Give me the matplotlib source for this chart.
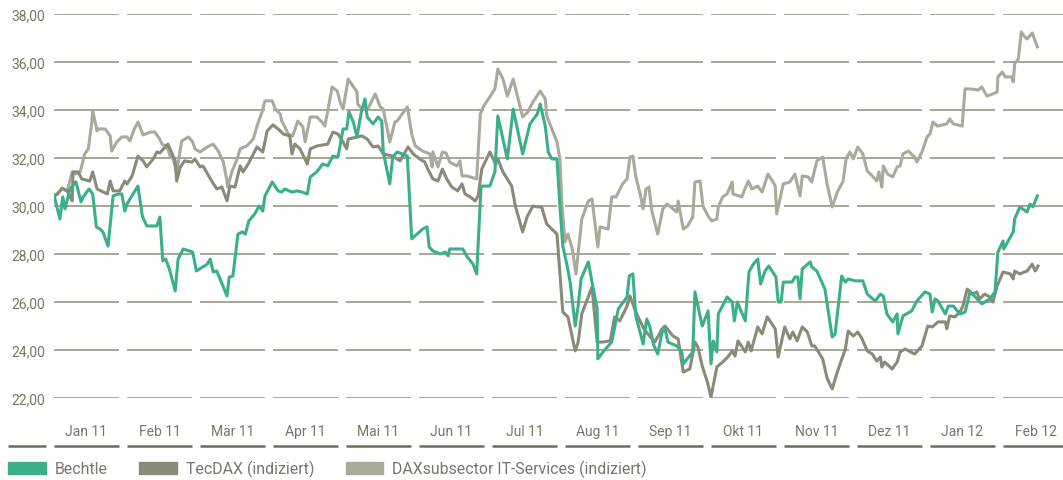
import matplotlib
matplotlib.use("Agg")
from matplotlib import pyplot as plt
from matplotlib.patches import Patch

#--- data (x = position in months, 0 = start of Jan 11)

months = ["Jan 11", "Feb 11", "Mär 11", "Apr 11", "Mai 11", "Jun 11", "Jul 11",
          "Aug 11", "Sep 11", "Okt 11", "Nov 11", "Dez 11", "Jan 12", "Feb 12"]
y_ticks = [22, 24, 26, 28, 30, 32, 34, 36, 38]
y_labels = ["22,00", "24,00", "26,00", "28,00", "30,00", "32,00", "34,00", "36,00", "38,00"]

bechtle_t = [0.00, 0.08, 0.12, 0.15, 0.22, 0.30, 0.37, 0.40, 0.48, 0.53, 0.58, 0.63, 0.67, 0.74,
             0.81, 0.88, 0.93, 0.97, 1.00, 1.04, 1.15, 1.21, 1.27, 1.41, 1.45, 1.49, 1.53, 1.58,
             1.66, 1.70, 1.77, 1.90, 1.95, 2.10, 2.14, 2.18, 2.23, 2.37, 2.40, 2.45, 2.52, 2.58,
             2.62, 2.67, 2.75, 2.81, 2.86, 2.89, 2.99, 3.07, 3.12, 3.16, 3.26, 3.33, 3.40, 3.47,
             3.51, 3.60, 3.68, 3.75, 3.82, 3.89, 3.96, 4.01, 4.04, 4.10, 4.15, 4.21, 4.26, 4.29,
             4.37, 4.44, 4.49, 4.51, 4.60, 4.64, 4.70, 4.77, 4.84, 4.90, 5.05, 5.11, 5.14, 5.19,
             5.29, 5.36, 5.40, 5.42, 5.60, 5.66, 5.74, 5.79, 5.85, 5.97, 6.04, 6.08, 6.21, 6.29,
             6.42, 6.52, 6.62, 6.66, 6.73, 6.77, 6.82, 6.89, 6.93, 6.97, 7.03, 7.07, 7.14, 7.18,
             7.22, 7.32, 7.37, 7.44, 7.45, 7.52, 7.64, 7.73, 7.85, 7.88, 7.93, 7.97, 8.07, 8.12,
             8.16, 8.21, 8.27, 8.33, 8.37, 8.41, 8.53, 8.60, 8.62, 8.75, 8.78, 8.88, 8.96, 9.00,
             9.03, 9.08, 9.10, 9.22, 9.29, 9.32, 9.36, 9.47, 9.52, 9.58, 9.64, 9.68, 9.74, 9.79,
             9.89, 9.92, 9.96, 9.99, 10.11, 10.15, 10.19, 10.22, 10.25, 10.36, 10.38, 10.45,
             10.56, 10.66, 10.70, 10.79, 10.84, 10.88, 10.97, 11.08, 11.14, 11.25, 11.32, 11.36,
             11.41, 11.49, 11.55, 11.56, 11.63, 11.75, 11.82, 11.93, 12.00, 12.03, 12.07, 12.11,
             12.21, 12.25, 12.32, 12.41, 12.48, 12.55, 12.62, 12.71, 12.82, 12.89, 12.93, 13.00,
             13.01, 13.14, 13.16, 13.23, 13.33, 13.37, 13.41, 13.47]
bechtle_v = [30.46, 29.46, 30.38, 29.88, 30.71, 31.01, 30.17, 30.38, 30.71, 30.50, 29.13, 29.04,
             28.92, 28.33, 30.42, 30.50, 30.50, 29.79, 30.08, 30.29, 30.83, 29.58, 29.17, 29.17,
             29.54, 27.71, 27.79, 27.38, 26.46, 27.79, 28.21, 28.08, 27.29, 27.58, 27.79, 27.25,
             27.29, 26.25, 27.04, 27.08, 28.83, 28.92, 28.83, 29.38, 29.67, 30.00, 29.79, 30.42,
             31.00, 30.63, 30.58, 30.71, 30.58, 30.63, 30.58, 30.50, 31.21, 31.42, 31.75, 31.67,
             32.08, 32.04, 33.21, 33.21, 33.92, 33.50, 32.88, 33.92, 34.46, 33.71, 33.42, 33.71,
             33.54, 32.25, 30.92, 32.04, 32.25, 32.17, 32.08, 28.63, 29.04, 29.13, 28.29, 28.13,
             28.00, 28.08, 27.92, 28.21, 28.21, 27.88, 27.58, 27.17, 30.83, 30.83, 31.42, 33.75,
             31.96, 34.04, 32.17, 33.42, 33.83, 34.25, 33.33, 32.25, 31.96, 31.96, 30.00, 28.33,
             27.50, 26.83, 25.00, 25.83, 26.96, 27.67, 26.83, 25.71, 23.63, 23.92, 24.33, 25.71,
             26.21, 27.08, 27.17, 25.42, 24.25, 25.29, 25.00, 24.25, 23.83, 24.75, 24.88, 24.33,
             24.17, 23.92, 23.42, 23.92, 26.42, 25.00, 25.63, 23.42, 24.38, 23.92, 25.50, 26.21,
             26.00, 25.21, 26.00, 25.21, 27.25, 27.58, 27.79, 26.75, 27.29, 27.50, 27.04, 26.00,
             26.00, 26.83, 26.83, 27.04, 27.04, 26.13, 27.38, 27.67, 27.46, 27.29, 26.54, 24.54,
             24.67, 27.08, 26.83, 26.96, 26.88, 26.88, 26.33, 26.04, 26.33, 26.25, 25.50, 25.17,
             25.50, 24.67, 25.42, 25.63, 26.04, 26.42, 26.33, 25.58, 26.13, 26.04, 25.50, 25.83,
             25.83, 25.50, 25.58, 26.42, 26.21, 25.92, 26.13, 26.42, 28.08, 28.54, 28.21, 28.92,
             29.46, 29.96, 29.75, 30.08, 29.96, 30.42]

tecdax_t = [0.00, 0.05, 0.11, 0.18, 0.25, 0.26, 0.33, 0.38, 0.49, 0.53, 0.59, 0.73, 0.77, 0.81,
            0.90, 0.97, 1.00, 1.07, 1.15, 1.22, 1.27, 1.36, 1.41, 1.45, 1.56, 1.66, 1.68, 1.73,
            1.79, 1.89, 1.93, 2.00, 2.04, 2.16, 2.23, 2.30, 2.37, 2.41, 2.48, 2.55, 2.59, 2.66,
            2.78, 2.86, 2.92, 3.00, 3.07, 3.14, 3.23, 3.26, 3.30, 3.37, 3.47, 3.51, 3.60, 3.75,
            3.82, 3.89, 3.95, 4.01, 4.03, 4.16, 4.22, 4.29, 4.37, 4.44, 4.51, 4.64, 4.74, 4.85,
            4.92, 5.01, 5.08, 5.12, 5.19, 5.26, 5.32, 5.38, 5.45, 5.53, 5.59, 5.63, 5.70, 5.77,
            5.81, 5.86, 5.97, 6.05, 6.08, 6.15, 6.27, 6.32, 6.42, 6.48, 6.56, 6.62, 6.68, 6.75,
            6.82, 6.89, 6.97, 7.04, 7.14, 7.18, 7.23, 7.37, 7.44, 7.51, 7.62, 7.68, 7.75, 7.85,
            7.89, 7.97, 8.08, 8.16, 8.23, 8.33, 8.37, 8.48, 8.55, 8.62, 8.71, 8.78, 8.82, 8.88,
            8.95, 9.00, 9.04, 9.08, 9.16, 9.23, 9.29, 9.33, 9.37, 9.47, 9.51, 9.55, 9.64, 9.70,
            9.77, 9.88, 9.92, 10.01, 10.08, 10.12, 10.18, 10.25, 10.32, 10.38, 10.42, 10.53,
            10.59, 10.66, 10.73, 10.84, 10.88, 10.95, 11.01, 11.07, 11.14, 11.21, 11.27, 11.32,
            11.34, 11.38, 11.48, 11.55, 11.59, 11.66, 11.79, 11.89, 11.97, 12.03, 12.11, 12.21,
            12.23, 12.27, 12.34, 12.41, 12.45, 12.51, 12.58, 12.64, 12.68, 12.75, 12.82, 12.86,
            12.92, 13.00, 13.10, 13.14, 13.16, 13.23, 13.33, 13.40, 13.44, 13.48]
tecdax_v = [30.42, 30.50, 30.75, 30.63, 30.21, 31.42, 31.42, 31.13, 31.04, 31.42, 30.71, 30.50,
            31.04, 30.63, 30.63, 31.04, 30.92, 31.25, 32.08, 31.88, 31.63, 31.96, 32.25, 32.21,
            32.58, 31.88, 31.04, 31.63, 31.88, 31.83, 31.96, 31.63, 31.67, 31.04, 30.71, 30.79,
            30.21, 30.83, 30.79, 31.67, 31.42, 31.75, 32.46, 32.25, 33.13, 33.38, 33.21, 33.00,
            32.92, 32.17, 32.58, 32.38, 31.75, 32.38, 32.50, 32.58, 33.08, 33.00, 32.71, 32.38,
            32.79, 32.88, 32.92, 32.79, 32.46, 32.50, 32.17, 32.08, 31.88, 32.46, 32.17, 31.96,
            31.83, 31.54, 31.13, 31.04, 31.54, 31.13, 30.79, 30.63, 30.92, 30.50, 30.38, 30.21,
            30.42, 31.54, 32.25, 31.75, 31.96, 31.42, 30.83, 30.00, 28.92, 29.54, 30.00, 29.96,
            29.96, 29.25, 29.04, 28.83, 25.58, 25.38, 23.96, 24.33, 25.50, 26.63, 24.33, 24.33,
            24.38, 25.38, 25.21, 25.83, 26.25, 25.58, 24.88, 24.58, 24.33, 24.88, 25.00, 24.58,
            24.46, 23.08, 23.21, 24.33, 24.13, 23.33, 22.67, 22.04, 22.67, 23.29, 23.50, 23.71,
            23.96, 23.75, 24.38, 23.92, 24.33, 23.96, 24.96, 24.67, 25.38, 24.88, 23.71, 24.96,
            24.46, 24.75, 24.38, 24.96, 24.75, 24.17, 24.17, 23.63, 22.83, 22.38, 23.08, 24.04,
            24.79, 24.58, 24.75, 24.46, 23.96, 23.83, 23.54, 23.71, 23.29, 23.50, 23.21, 23.50,
            23.92, 24.04, 23.83, 24.17, 25.00, 24.96, 25.17, 25.17, 24.88, 25.42, 25.38, 25.58,
            25.83, 26.54, 26.33, 26.42, 26.13, 26.33, 26.21, 26.00, 26.67, 27.25, 27.17, 26.96,
            27.29, 27.17, 27.29, 27.58, 27.29, 27.50]

itserv_t = [0.01, 0.11, 0.18, 0.25, 0.29, 0.36, 0.42, 0.47, 0.52, 0.53, 0.59, 0.60, 0.70, 0.77,
            0.79, 0.86, 0.93, 1.00, 1.04, 1.10, 1.15, 1.22, 1.32, 1.38, 1.44, 1.48, 1.55, 1.59,
            1.63, 1.68, 1.75, 1.84, 1.90, 1.93, 2.00, 2.10, 2.18, 2.25, 2.32, 2.37, 2.38, 2.44,
            2.51, 2.55, 2.64, 2.73, 2.79, 2.85, 2.89, 2.99, 3.03, 3.10, 3.12, 3.21, 3.27, 3.34,
            3.41, 3.44, 3.51, 3.60, 3.67, 3.71, 3.75, 3.81, 3.88, 3.92, 3.96, 4.03, 4.15, 4.16,
            4.22, 4.30, 4.40, 4.47, 4.51, 4.60, 4.67, 4.70, 4.84, 4.90, 4.95, 5.05, 5.15, 5.18,
            5.19, 5.26, 5.32, 5.37, 5.42, 5.52, 5.56, 5.59, 5.66, 5.79, 5.84, 5.88, 5.95, 6.04,
            6.08, 6.15, 6.21, 6.29, 6.42, 6.49, 6.56, 6.66, 6.73, 6.75, 6.82, 6.89, 6.93, 6.96,
            7.00, 7.04, 7.10, 7.15, 7.19, 7.23, 7.32, 7.37, 7.45, 7.48, 7.59, 7.64, 7.70, 7.79,
            7.85, 7.89, 7.93, 7.97, 8.03, 8.07, 8.11, 8.15, 8.19, 8.27, 8.34, 8.40, 8.48, 8.53,
            8.55, 8.62, 8.68, 8.75, 8.78, 8.85, 8.89, 8.96, 9.01, 9.08, 9.10, 9.16, 9.22, 9.29,
            9.30, 9.42, 9.51, 9.56, 9.64, 9.70, 9.78, 9.85, 9.88, 9.90, 9.99, 10.08, 10.15,
            10.22, 10.25, 10.33, 10.38, 10.45, 10.53, 10.59, 10.66, 10.73, 10.81, 10.85, 10.90,
            10.95, 11.01, 11.08, 11.14, 11.21, 11.27, 11.30, 11.34, 11.36, 11.42, 11.49, 11.55,
            11.59, 11.63, 11.70, 11.79, 11.82, 11.89, 11.96, 12.00, 12.04, 12.10, 12.23, 12.27,
            12.32, 12.44, 12.48, 12.55, 12.66, 12.71, 12.78, 12.86, 12.92, 12.93, 12.99, 13.03,
            13.12, 13.14, 13.16, 13.21, 13.25, 13.30, 13.33, 13.40, 13.47]
itserv_v = [30.42, 30.71, 30.63, 31.42, 31.33, 31.42, 32.17, 32.38, 33.54, 33.96, 33.13, 33.21,
            33.21, 32.92, 32.29, 32.67, 32.88, 32.88, 32.71, 33.21, 33.50, 32.96, 33.08, 33.08,
            32.83, 32.58, 32.46, 32.08, 31.96, 31.42, 32.71, 32.88, 32.67, 32.38, 32.25, 32.46,
            32.58, 32.29, 31.83, 31.04, 30.79, 31.46, 31.96, 32.38, 32.50, 32.79, 33.42, 33.92,
            34.38, 34.38, 34.04, 33.83, 33.54, 33.00, 32.92, 33.54, 33.29, 32.67, 33.71, 33.71,
            33.50, 33.33, 33.96, 34.96, 34.79, 34.33, 34.04, 35.29, 34.75, 34.25, 34.04, 34.04,
            34.67, 34.13, 34.04, 32.67, 33.50, 33.54, 34.13, 33.00, 32.50, 32.29, 32.17, 31.63,
            32.25, 31.63, 32.25, 32.21, 31.83, 31.67, 31.88, 31.25, 31.25, 31.13, 33.83, 34.13,
            34.46, 34.88, 35.71, 35.29, 34.58, 35.29, 33.71, 33.92, 34.33, 34.79, 34.46, 33.75,
            33.21, 32.67, 31.96, 30.00, 28.50, 28.83, 28.21, 27.17, 28.33, 29.46, 30.21, 30.29,
            28.29, 29.13, 29.04, 30.38, 30.38, 30.92, 31.13, 32.04, 32.08, 31.21, 30.50, 29.88,
            30.71, 30.79, 29.79, 28.83, 29.88, 30.08, 29.88, 29.75, 30.21, 29.04, 29.17, 29.54,
            31.00, 31.04, 30.00, 29.58, 29.38, 29.46, 29.96, 30.38, 30.50, 31.00, 30.50, 30.38,
            31.04, 30.71, 30.83, 30.58, 31.33, 31.00, 30.83, 29.67, 30.92, 31.00, 31.33, 30.42,
            31.25, 31.21, 31.00, 31.88, 32.04, 30.92, 29.96, 30.58, 31.04, 31.96, 32.25, 31.96,
            32.46, 32.17, 31.46, 31.25, 31.04, 31.42, 30.79, 31.67, 31.33, 31.21, 31.63, 31.67,
            32.17, 32.29, 32.04, 31.83, 32.25, 32.88, 33.00, 33.50, 33.33, 33.42, 33.63, 33.42,
            33.33, 34.88, 34.88, 34.83, 34.96, 34.58, 34.67, 34.75, 35.38, 35.58, 35.38, 35.38,
            35.17, 35.92, 36.13, 37.25, 37.04, 36.96, 37.21, 36.63]

#--- style

c_bechtle = '#3aaf8a'
c_tecdax = '#8a8a77'
c_itserv = '#aaaa9b'
c_grid = '#a6a697'
c_base = '#6e6e5e'
c_text = '#76766a'

plt.rcParams['font.family'] = ['Roboto', 'DejaVu Sans']

W, H = 1063, 481
fig = plt.figure(figsize=(W / 100, H / 100), dpi=100)
ax = fig.add_axes([54 / W, (H - 399) / H, (W - 54) / W, 384 / H])
ax.set_xlim(0, (W - 54) / 73)
ax.set_ylim(22, 38)
for s in ax.spines.values():
    s.set_visible(False)

# gridlines, split per month column
seg = 0.89
for i in range(len(months)):
    ax.hlines(y_ticks, i, i + seg, color=c_grid, lw=1.4, zorder=1)
    ax.hlines(20, i, i + seg, color=c_base, lw=1.8, clip_on=False)
ax.hlines(20, -0.63, -0.11, color=c_base, lw=1.8, clip_on=False)

ax.plot(itserv_t, itserv_v, color=c_itserv, lw=2.2, zorder=3, solid_joinstyle='round')
ax.plot(tecdax_t, tecdax_v, color=c_tecdax, lw=2.2, zorder=4, solid_joinstyle='round')
ax.plot(bechtle_t, bechtle_v, color=c_bechtle, lw=2.2, zorder=5, solid_joinstyle='round')

ax.set_yticks(y_ticks)
ax.set_yticklabels(y_labels)
ax.set_xticks([i + seg / 2 for i in range(len(months))])
ax.set_xticklabels(months)
ax.tick_params(axis='y', length=0, pad=6.5, labelsize=10, labelcolor=c_text)
ax.tick_params(axis='x', length=0, pad=18.5, labelsize=10, labelcolor=c_text)

handles = [Patch(color=c_bechtle, label='Bechtle'),
           Patch(color=c_tecdax, label='TecDAX (indiziert)'),
           Patch(color=c_itserv, label='DAXsubsector IT-Services (indiziert)')]
fig.legend(handles=handles, loc='upper left', bbox_to_anchor=(8 / W, 1 - 461 / H),
           ncol=3, frameon=False, fontsize=11.4, labelcolor=c_text, borderpad=0,
           borderaxespad=0, handlelength=2.375, handleheight=0.75, handletextpad=0.56,
           columnspacing=2.0)

fig.savefig('out.png', dpi=100)
plt.close()
